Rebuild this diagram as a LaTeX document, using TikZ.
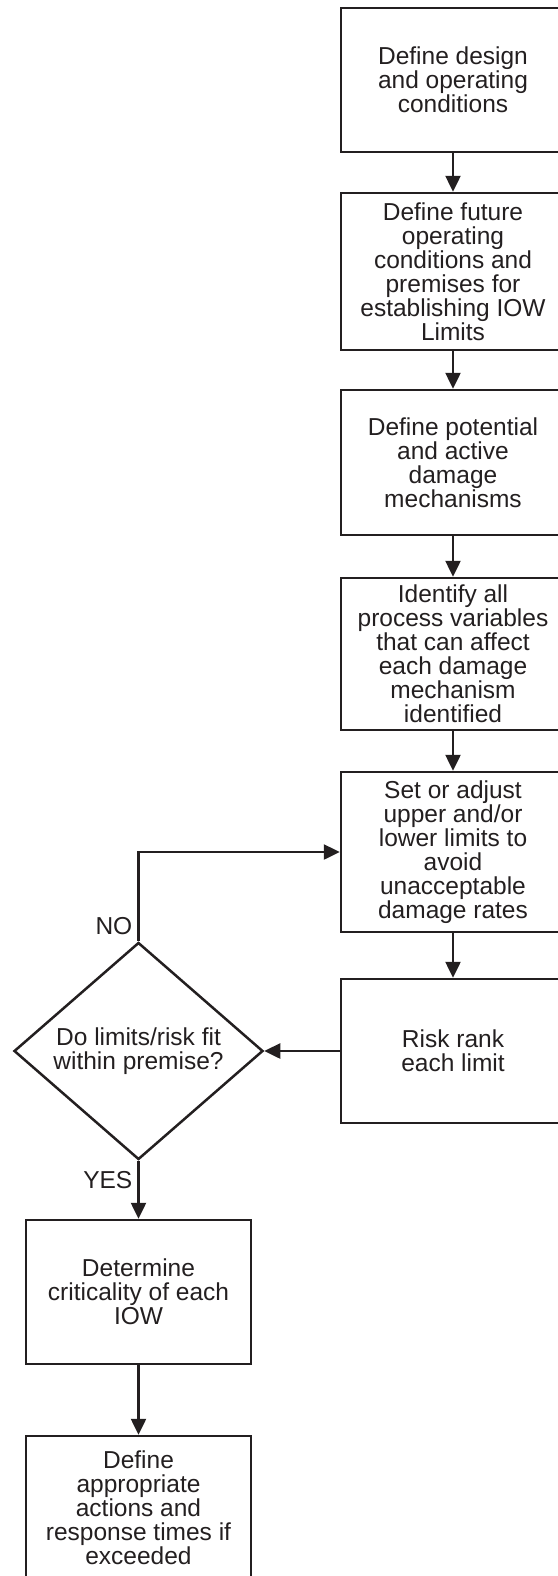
\documentclass[tikz,border=0pt]{standalone}
\usepackage{fontspec}
\setmainfont{Liberation Sans}
\usetikzlibrary{arrows.meta,shapes.geometric}
\definecolor{ink}{RGB}{35,31,32}

\begin{document}
\begin{tikzpicture}[x=1pt,y=-1pt,>={Triangle[length=16pt,width=15pt]},
  font=\fontsize{24.5}{24}\selectfont,
  flow/.style={->,draw=ink,line width=2.5pt},
  box/.style={draw=ink,text=ink,line width=2.5pt,align=center,
    inner sep=0pt,minimum width=224pt},
  lbl/.style={text=ink,inner sep=0pt}]
\useasboundingbox (0,0) rectangle (557,1576);
% right column
\node[box,minimum height=144pt] (design) at (453,80)
  {Define design\\and operating\\conditions};
\node[box,minimum height=157pt] (future) at (453,271.5)
  {Define future\\operating\\conditions and\\premises for\\establishing IOW\\Limits};
\node[box,minimum height=145pt] (mech) at (453,462.5)
  {Define potential\\and active\\damage\\mechanisms};
\node[box,minimum height=152pt] (vars) at (453,654)
  {Identify all\\process variables\\that can affect\\each damage\\mechanism\\identified};
\node[box,minimum height=160pt] (limits) at (453,852)
  {Set or adjust\\upper and/or\\lower limits to\\avoid\\unacceptable\\damage rates};
\node[box,minimum height=144pt] (rank) at (453,1051)
  {Risk rank\\each limit};
% decision
\node[draw=ink,text=ink,line width=2.5pt,shape=diamond,align=center,
  inner sep=0pt,minimum width=249pt,minimum height=186pt] (fit) at (138.5,1051)
  {Do limits/risk fit\\within premise?};
% left column
\node[box,minimum width=225pt,minimum height=144pt] (crit) at (138.5,1292)
  {Determine\\criticality of each\\IOW};
\node[box,minimum width=225pt,minimum height=144pt] (act) at (138.5,1508)
  {Define\\appropriate\\actions and\\response times if\\exceeded};
\node[lbl,anchor=south east] (no) at ([xshift=-6pt,yshift=6pt]fit.north) {NO};
\node[lbl,anchor=north east] (yes) at ([xshift=-6pt,yshift=-10pt]fit.south) {YES};
% connectors
\draw[flow] (design)--(future);
\draw[flow] (future)--(mech);
\draw[flow] (mech)--(vars);
\draw[flow] (vars)--(limits);
\draw[flow] (limits)--(rank);
\draw[flow] (rank)--(fit);
\draw[flow] (fit.north) |- (limits.west);
\draw[flow] (fit.south)--(crit.north);
\draw[flow] (crit)--(act);
\end{tikzpicture}
\end{document}
